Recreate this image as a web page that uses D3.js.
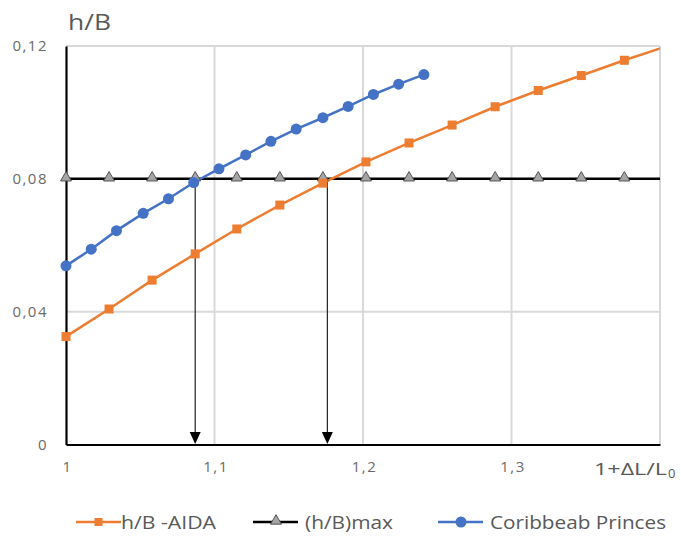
<!DOCTYPE html>
<html>
<head>
<meta charset="utf-8">
<script src="https://cdn.jsdelivr.net/npm/d3@7"></script>
<style>
  body { margin: 0; background: #fff; }
  text { font-family: "Open Sans", sans-serif; }
</style>
</head>
<body>
<script>
// x values shared by AIDA and (h/B)max series (last one is past the axis end)
var xAida = [1, 1.029, 1.058, 1.087, 1.115, 1.144, 1.173, 1.202, 1.231, 1.260, 1.289, 1.318, 1.347, 1.376, 1.405];
var yAida = [0.0325, 0.0408, 0.0495, 0.0574, 0.0649, 0.0721, 0.0787, 0.0851, 0.0908, 0.0962, 0.1017, 0.1066, 0.1111, 0.1157, 0.1200];
var yMax = [0.08, 0.08, 0.08, 0.08, 0.08, 0.08, 0.08, 0.08, 0.08, 0.08, 0.08, 0.08, 0.08, 0.08, 0.08];

var xCarib = [1, 1.017, 1.034, 1.052, 1.069, 1.086, 1.103, 1.121, 1.138, 1.155, 1.173, 1.190, 1.207, 1.224, 1.241];
var yCarib = [0.0538, 0.0588, 0.0644, 0.0696, 0.0740, 0.0789, 0.0830, 0.0872, 0.0913, 0.0950, 0.0984, 0.1018, 0.1054, 0.1085, 0.1114];

var arrowX = [1.087, 1.176];

var xTicks = [1, 1.1, 1.2, 1.3];
var yTicks = [0, 0.04, 0.08, 0.12];

var W = 681, H = 536;
var svg = d3.select("body").append("svg")
    .attr("width", W)
    .attr("height", H);

var x = d3.scaleLinear().domain([1, 1.4]).range([66, 660]);
var y = d3.scaleLinear().domain([0, 0.12]).range([444.5, 46]);

var fmt = function(d) { return String(d).replace(".", ","); };

svg.append("defs").append("clipPath").attr("id", "plot")
    .append("rect")
    .attr("x", x(1)).attr("y", y(0.12) - 10)
    .attr("width", x(1.4) - x(1)).attr("height", y(0) - y(0.12) + 20);

// gridlines
svg.append("g").selectAll("line")
    .data([1.1, 1.2, 1.3, 1.4])
    .enter().append("line")
    .attr("x1", function(d) { return x(d); })
    .attr("x2", function(d) { return x(d); })
    .attr("y1", y(0)).attr("y2", y(0.12))
    .attr("stroke", "#d9d9d9").attr("stroke-width", 2);
svg.append("g").selectAll("line")
    .data([0.04, 0.12])
    .enter().append("line")
    .attr("x1", x(1)).attr("x2", x(1.4))
    .attr("y1", function(d) { return y(d); })
    .attr("y2", function(d) { return y(d); })
    .attr("stroke", "#d9d9d9").attr("stroke-width", 2);

// axes
var gx = svg.append("g").attr("transform", "translate(0," + y(0) + ")")
    .call(d3.axisBottom(x).tickValues(xTicks).tickSize(0).tickPadding(17).tickFormat(fmt));
gx.select(".domain").attr("stroke", "#000").attr("stroke-width", 2.2);
gx.selectAll("text").attr("font-size", 15).attr("fill", "#6b6b6b")
    .attr("letter-spacing", 1.5).attr("dx", 1)
    .style("font-family", "Open Sans");

var gy = svg.append("g").attr("transform", "translate(" + x(1) + ",0)")
    .call(d3.axisLeft(y).tickValues(yTicks).tickSize(0).tickPadding(18).tickFormat(fmt));
gy.select(".domain").attr("stroke", "#000").attr("stroke-width", 2.2);
gy.selectAll("text").attr("font-size", 15).attr("fill", "#6b6b6b")
    .attr("letter-spacing", 1.5)
    .style("font-family", "Open Sans");

// arrows
var arrows = svg.append("g");
arrows.selectAll("line")
    .data(arrowX)
    .enter().append("line")
    .attr("x1", function(d) { return x(d); })
    .attr("x2", function(d) { return x(d); })
    .attr("y1", y(0.08)).attr("y2", y(0) - 8)
    .attr("stroke", "#222").attr("stroke-width", 1.2);
arrows.selectAll("path")
    .data(arrowX)
    .enter().append("path")
    .attr("d", function(d) {
        var px = x(d), py = y(0) - 0.5;
        return "M" + (px - 5.5) + "," + (py - 12) + "L" + (px + 5.5) + "," + (py - 12) + "L" + px + "," + py + "Z";
    })
    .attr("fill", "#000");

var line = d3.line()
    .x(function(d) { return x(d[0]); })
    .y(function(d) { return y(d[1]); });

var dMax = d3.zip(xAida, yMax);
var dAida = d3.zip(xAida, yAida);
var dCarib = d3.zip(xCarib, yCarib);
var inside = function(d) { return d[0] <= 1.4; };

// lines are clipped at the plot edge, markers are drawn only inside it
var plot = svg.append("g").attr("clip-path", "url(#plot)");
var marks = svg.append("g");

// (h/B)max
plot.append("path").datum(dMax)
    .attr("d", line).attr("fill", "none")
    .attr("stroke", "#000").attr("stroke-width", 2.5);
var tri = d3.symbol().type(d3.symbolTriangle).size(52);
marks.append("g").selectAll("path")
    .data(dMax.filter(inside))
    .enter().append("path")
    .attr("d", tri)
    .attr("transform", function(d) { return "translate(" + x(d[0]) + "," + (y(d[1]) - 1) + ")"; })
    .attr("fill", "#a5a5a5").attr("stroke", "#555").attr("stroke-width", 1);

// AIDA
plot.append("path").datum(dAida)
    .attr("d", line).attr("fill", "none")
    .attr("stroke", "#ed7d31").attr("stroke-width", 2.5);
marks.append("g").selectAll("rect")
    .data(dAida.filter(inside))
    .enter().append("rect")
    .attr("x", function(d) { return x(d[0]) - 4.5; })
    .attr("y", function(d) { return y(d[1]) - 4.5; })
    .attr("width", 9).attr("height", 9)
    .attr("fill", "#ed7d31");

// Caribbean
plot.append("path").datum(dCarib)
    .attr("d", line).attr("fill", "none")
    .attr("stroke", "#4472c4").attr("stroke-width", 2.5);
marks.append("g").selectAll("circle")
    .data(dCarib)
    .enter().append("circle")
    .attr("cx", function(d) { return x(d[0]); })
    .attr("cy", function(d) { return y(d[1]); })
    .attr("r", 5.5)
    .attr("fill", "#4472c4");

// titles
svg.append("text")
    .attr("x", 68).attr("y", 30)
    .attr("font-size", 21).attr("fill", "#595959")
    .attr("textLength", 43).attr("lengthAdjust", "spacingAndGlyphs")
    .text("h/B");

var xt = svg.append("text")
    .attr("y", 475)
    .attr("font-size", 17).attr("fill", "#595959");
xt.append("tspan").attr("x", 594)
    .attr("textLength", 73).attr("lengthAdjust", "spacingAndGlyphs")
    .text("1+\u0394L/L");
xt.append("tspan").attr("x", 668).attr("dy", 3)
    .attr("font-size", 13).text("0");

// legend
var legend = [
    { name: "h/B -AIDA", color: "#ed7d31", mark: "square", x: 76, len: 95 },
    { name: "(h/B)max", color: "#000", mark: "triangle", x: 253, len: 88 },
    { name: "Coribbeab Princes", color: "#4472c4", mark: "circle", x: 438, len: 176 }
];
var lg = svg.append("g").selectAll("g")
    .data(legend)
    .enter().append("g")
    .attr("transform", function(d) { return "translate(" + d.x + ",522)"; });
lg.append("line")
    .attr("x1", 0).attr("x2", 45)
    .attr("stroke", function(d) { return d.color; })
    .attr("stroke-width", 2.5);
lg.each(function(d) {
    var g = d3.select(this);
    if (d.mark === "square") {
        g.append("rect").attr("x", 18.5).attr("y", -4).attr("width", 8).attr("height", 8).attr("fill", d.color);
    } else if (d.mark === "triangle") {
        g.append("path").attr("d", tri).attr("transform", "translate(23,-1)")
            .attr("fill", "#a5a5a5").attr("stroke", "#555").attr("stroke-width", 1);
    } else {
        g.append("circle").attr("cx", 23).attr("r", 5.5).attr("fill", d.color);
    }
});
lg.append("text")
    .attr("x", function(d) { return d.x < 100 ? 45 : 52; })
    .attr("y", 6.5)
    .attr("font-size", 18).attr("fill", "#595959")
    .attr("textLength", function(d) { return d.len; })
    .attr("lengthAdjust", "spacingAndGlyphs")
    .text(function(d) { return d.name; });
</script>
</body>
</html>
